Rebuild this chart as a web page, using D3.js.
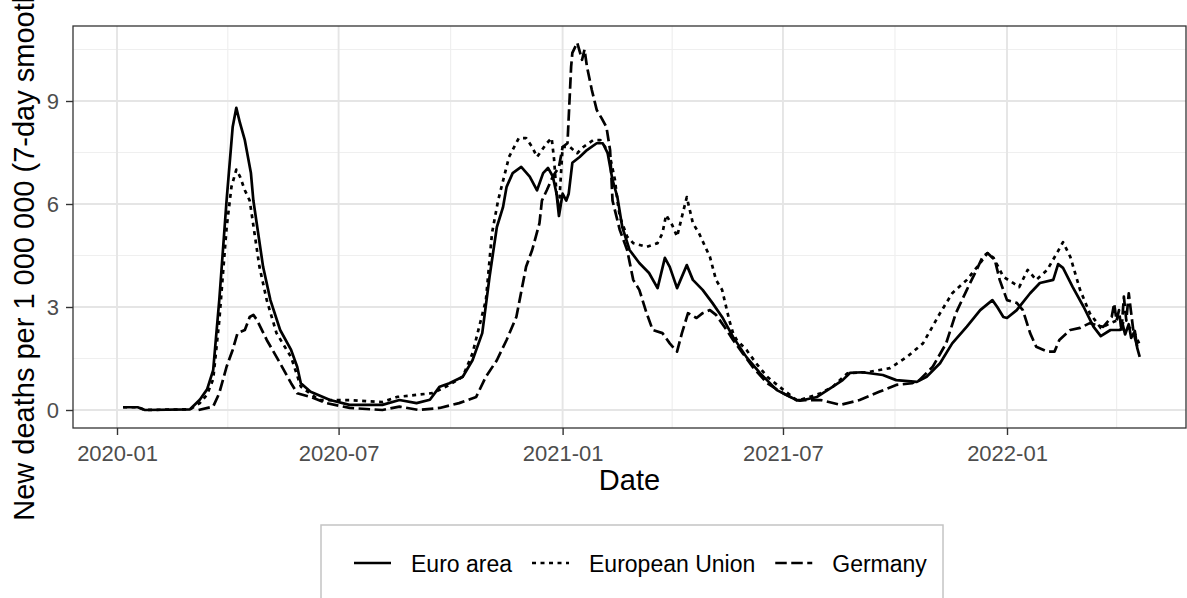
<!DOCTYPE html>
<html><head><meta charset="utf-8">
<script src="https://cdn.jsdelivr.net/npm/d3@7"></script>
<style>
body{margin:0;background:#fff}
svg{display:block}
text{font-family:"Liberation Sans",Arial,Helvetica,sans-serif}
</style>
</head><body>
<svg id="chart" width="1187" height="598"></svg>
<script>
// ---------------- data ----------------
const seriesNames = ["Euro area", "European Union", "Germany"];

const euroArea = [
["2020-01-06",0.08],["2020-01-18",0.08],["2020-01-24",0.0],["2020-03-01",0.02],["2020-03-09",0.3],["2020-03-15",0.6],
["2020-03-20",1.16],["2020-03-25",3.2],["2020-03-31",6.1],["2020-04-05",8.24],["2020-04-08",8.8],["2020-04-11",8.36],
["2020-04-15",7.86],["2020-04-20",6.9],["2020-04-22",6.1],["2020-04-30",4.17],["2020-05-06",3.2],["2020-05-14",2.33],
["2020-05-23",1.75],["2020-05-28",1.26],["2020-05-31",0.78],["2020-06-08",0.53],["2020-06-24",0.29],["2020-07-10",0.15],
["2020-08-06",0.15],["2020-08-20",0.29],["2020-09-03",0.2],["2020-09-14",0.3],["2020-09-22",0.68],["2020-09-30",0.78],
["2020-10-11",0.97],["2020-10-19",1.45],["2020-10-27",2.24],["2020-11-02",3.88],["2020-11-08",5.33],["2020-11-13",5.9],
["2020-11-16",6.5],["2020-11-21",6.9],["2020-11-28",7.08],["2020-12-05",6.8],["2020-12-11",6.4],["2020-12-16",6.9],
["2020-12-20",7.05],["2020-12-24",6.8],["2020-12-27",6.3],["2020-12-29",5.65],["2021-01-01",6.3],["2021-01-04",6.1],
["2021-01-06",6.3],["2021-01-09",7.2],["2021-01-15",7.37],["2021-01-21",7.57],["2021-01-29",7.77],["2021-02-03",7.77],
["2021-02-07",7.48],["2021-02-11",6.7],["2021-02-15",6.2],["2021-02-19",5.33],["2021-02-25",4.66],["2021-03-05",4.28],
["2021-03-13",3.99],["2021-03-20",3.55],["2021-03-26",4.43],["2021-03-30",4.17],["2021-04-05",3.55],["2021-04-13",4.22],
["2021-04-18",3.79],["2021-04-26",3.5],["2021-05-04",3.12],["2021-05-12",2.71],["2021-05-21",2.13],["2021-06-01",1.54],
["2021-06-12",1.08],["2021-06-26",0.58],["2021-07-12",0.29],["2021-07-15",0.27],["2021-07-29",0.38],["2021-08-11",0.68],
["2021-08-19",0.87],["2021-08-25",1.08],["2021-09-04",1.1],["2021-09-21",1.02],["2021-10-02",0.87],["2021-10-19",0.82],
["2021-10-27",0.97],["2021-11-07",1.36],["2021-11-17",1.94],["2021-11-29",2.43],["2021-12-10",2.91],["2021-12-20",3.2],
["2021-12-24",3.0],["2021-12-29",2.71],["2022-01-01",2.68],["2022-01-09",2.91],["2022-01-20",3.4],["2022-01-28",3.7],
["2022-02-08",3.79],["2022-02-12",4.25],["2022-02-16",4.14],["2022-02-24",3.58],["2022-03-05",3.0],["2022-03-13",2.43],
["2022-03-19",2.15],["2022-03-27",2.33],["2022-04-04",2.33],["2022-04-06",2.5],["2022-04-08",2.2],["2022-04-11",2.5],
["2022-04-13",2.1],["2022-04-16",2.3],["2022-04-18",1.8],["2022-04-20",1.55]
];

const europeanUnion = [
["2020-01-06",0.08],["2020-01-18",0.08],["2020-01-24",0.0],["2020-03-01",0.02],["2020-03-09",0.2],["2020-03-15",0.45],
["2020-03-20",0.9],["2020-03-25",2.6],["2020-03-31",5.3],["2020-04-04",6.5],["2020-04-08",7.0],["2020-04-11",6.8],
["2020-04-15",6.4],["2020-04-19",6.1],["2020-04-27",4.17],["2020-05-03",3.2],["2020-05-11",2.24],["2020-05-23",1.54],
["2020-05-31",0.68],["2020-06-15",0.29],["2020-07-10",0.29],["2020-08-06",0.23],["2020-08-18",0.38],["2020-09-16",0.49],
["2020-09-30",0.73],["2020-10-11",0.97],["2020-10-19",1.65],["2020-10-30",3.2],["2020-11-04",5.15],["2020-11-09",6.1],
["2020-11-18",7.37],["2020-11-26",7.92],["2020-12-02",7.92],["2020-12-07",7.66],["2020-12-11",7.37],["2020-12-19",7.77],
["2020-12-23",7.92],["2020-12-25",7.3],["2020-12-27",6.3],["2020-12-29",5.9],["2021-01-01",7.66],["2021-01-07",7.66],
["2021-01-13",7.48],["2021-01-18",7.66],["2021-01-26",7.86],["2021-02-01",7.86],["2021-02-05",7.66],["2021-02-09",7.37],
["2021-02-13",6.7],["2021-02-15",6.1],["2021-02-17",5.63],["2021-02-23",5.05],["2021-02-28",4.86],["2021-03-11",4.75],
["2021-03-20",4.86],["2021-03-24",5.15],["2021-03-27",5.68],["2021-04-01",5.39],["2021-04-05",5.05],["2021-04-09",5.63],
["2021-04-13",6.2],["2021-04-18",5.44],["2021-04-23",5.15],["2021-05-02",4.46],["2021-05-07",3.79],["2021-05-12",3.5],
["2021-05-18",2.6],["2021-05-21",2.24],["2021-05-24",2.04],["2021-06-01",1.75],["2021-06-09",1.36],["2021-06-18",0.97],
["2021-06-28",0.68],["2021-07-12",0.29],["2021-07-15",0.29],["2021-08-01",0.49],["2021-08-11",0.68],["2021-08-23",1.07],
["2021-09-08",1.1],["2021-09-27",1.22],["2021-10-11",1.55],["2021-10-24",1.94],["2021-11-07",2.82],["2021-11-17",3.4],
["2021-11-29",3.79],["2021-12-10",4.28],["2021-12-16",4.57],["2021-12-21",4.43],["2021-12-29",3.88],["2022-01-06",3.7],
["2022-01-11",3.58],["2022-01-18",4.08],["2022-01-25",3.79],["2022-02-03",4.08],["2022-02-11",4.57],["2022-02-16",4.89],
["2022-02-22",4.46],["2022-03-02",3.5],["2022-03-10",2.82],["2022-03-19",2.39],["2022-03-27",2.53],["2022-04-01",2.6],
["2022-04-08",2.5],["2022-04-15",2.3],["2022-04-20",1.9]
];

const germany = [
["2020-03-08",0.0],["2020-03-20",0.1],["2020-03-25",0.49],["2020-03-31",1.26],["2020-04-05",1.75],["2020-04-09",2.24],
["2020-04-15",2.33],["2020-04-19",2.71],["2020-04-22",2.77],["2020-04-25",2.62],["2020-05-03",2.04],["2020-05-14",1.36],
["2020-05-23",0.78],["2020-05-28",0.49],["2020-06-08",0.38],["2020-06-21",0.2],["2020-07-10",0.06],["2020-08-06",0.0],
["2020-08-20",0.1],["2020-09-05",0.0],["2020-09-22",0.06],["2020-10-08",0.2],["2020-10-22",0.38],["2020-10-30",0.97],
["2020-11-08",1.45],["2020-11-16",2.04],["2020-11-24",2.71],["2020-12-02",4.17],["2020-12-07",4.66],["2020-12-13",5.44],
["2020-12-15",6.1],["2020-12-19",6.4],["2020-12-24",6.8],["2020-12-29",7.08],["2021-01-01",7.66],["2021-01-05",7.77],
["2021-01-08",10.0],["2021-01-09",10.4],["2021-01-13",10.7],["2021-01-17",10.2],["2021-01-19",10.5],["2021-01-21",10.0],
["2021-01-25",9.32],["2021-01-29",8.74],["2021-02-02",8.5],["2021-02-06",8.24],["2021-02-09",7.57],["2021-02-11",6.1],
["2021-02-17",5.24],["2021-02-23",4.66],["2021-02-28",3.79],["2021-03-05",3.5],["2021-03-11",2.82],["2021-03-16",2.33],
["2021-03-24",2.24],["2021-03-30",1.94],["2021-04-05",1.7],["2021-04-09",2.24],["2021-04-14",2.82],["2021-04-21",2.68],
["2021-04-26",2.82],["2021-05-02",2.91],["2021-05-07",2.77],["2021-05-14",2.42],["2021-05-21",2.04],["2021-05-29",1.65],
["2021-06-06",1.26],["2021-06-18",0.78],["2021-07-01",0.49],["2021-07-12",0.29],["2021-08-01",0.29],["2021-08-17",0.15],
["2021-09-02",0.29],["2021-09-18",0.53],["2021-10-02",0.73],["2021-10-15",0.78],["2021-10-21",0.87],["2021-11-01",1.26],
["2021-11-12",1.94],["2021-11-20",2.82],["2021-11-29",3.5],["2021-12-07",4.08],["2021-12-12",4.46],["2021-12-16",4.57],
["2021-12-22",4.37],["2021-12-26",3.79],["2022-01-01",3.2],["2022-01-09",3.12],["2022-01-14",2.91],["2022-01-20",2.24],
["2022-01-25",1.84],["2022-02-03",1.7],["2022-02-09",1.7],["2022-02-13",2.04],["2022-02-22",2.33],["2022-03-02",2.39],
["2022-03-10",2.53],["2022-03-21",2.42],["2022-03-28",2.71],["2022-03-30",3.1],["2022-04-01",2.6],["2022-04-03",2.91],
["2022-04-05",2.3],["2022-04-07",3.3],["2022-04-09",2.6],["2022-04-11",3.4],["2022-04-13",2.82],["2022-04-15",2.24],
["2022-04-18",1.84]
];

const xTickLabels = ["2020-01","2020-07","2021-01","2021-07","2022-01"];
const xMinorTicks = ["2020-04","2020-10","2021-04","2021-10","2022-04"];
const yTicks = [0, 3, 6, 9];
const yMinorTicks = [1.5, 4.5, 7.5, 10.5];
const xTitle = "Date";
const yTitle = "New deaths per 1 000 000 (7-day smoothed)";

// ---------------- layout ----------------
const svg = d3.select("#chart");
const P = {l: 73, t: 26, r: 1186, b: 428};
const parseDay = d3.utcParse("%Y-%m-%d");
const parseMonth = d3.utcParse("%Y-%m");

const x = d3.scaleUtc()
  .domain([parseDay("2020-01-01"), parseDay("2022-01-01")])
  .range([117, 1007]);
const y = d3.scaleLinear().domain([0, 9]).range([410, 101]);

const FONT = '"Liberation Sans",Arial,Helvetica,sans-serif';

// panel background
svg.append("rect").attr("x", P.l).attr("y", P.t)
  .attr("width", P.r - P.l).attr("height", P.b - P.t).attr("fill", "#fff");

const grid = svg.append("g");
// minor grid
grid.selectAll("line.xmin").data(xMinorTicks.map(parseMonth)).join("line")
  .attr("x1", d => x(d)).attr("x2", d => x(d)).attr("y1", P.t).attr("y2", P.b)
  .attr("stroke", "#efefef").attr("stroke-width", 1.2);
grid.selectAll("line.ymin").data(yMinorTicks).join("line")
  .attr("y1", d => y(d)).attr("y2", d => y(d)).attr("x1", P.l).attr("x2", P.r)
  .attr("stroke", "#efefef").attr("stroke-width", 1.2);
// major grid
grid.selectAll("line.xmaj").data(xTickLabels.map(parseMonth)).join("line")
  .attr("x1", d => x(d)).attr("x2", d => x(d)).attr("y1", P.t).attr("y2", P.b)
  .attr("stroke", "#e5e5e5").attr("stroke-width", 1.9);
grid.selectAll("line.ymaj").data(yTicks).join("line")
  .attr("y1", d => y(d)).attr("y2", d => y(d)).attr("x1", P.l).attr("x2", P.r)
  .attr("stroke", "#e5e5e5").attr("stroke-width", 1.9);

// clip
svg.append("clipPath").attr("id", "clip").append("rect")
  .attr("x", P.l).attr("y", P.t).attr("width", P.r - P.l).attr("height", P.b - P.t);

const styles = {
  "Euro area": null,
  "European Union": "4,4.5",
  "Germany": "11.5,4.5"
};
const seriesData = [euroArea, europeanUnion, germany];
const LW = 2.7;

const line = d3.line()
  .x(d => x(parseDay(d[0])))
  .y(d => y(d[1]));

const lines = svg.append("g").attr("clip-path", "url(#clip)");
seriesNames.forEach((name, i) => {
  lines.append("path")
    .datum(seriesData[i])
    .attr("d", line)
    .attr("fill", "none")
    .attr("stroke", "#000")
    .attr("stroke-width", LW)
    .attr("stroke-linejoin", "round")
    .attr("stroke-dasharray", styles[name]);
});

// panel border
svg.append("rect").attr("x", P.l).attr("y", P.t)
  .attr("width", P.r - P.l).attr("height", P.b - P.t)
  .attr("fill", "none").attr("stroke", "#333").attr("stroke-width", 1.3);

// axes
const xAxis = d3.axisBottom(x)
  .tickValues(xTickLabels.map(parseMonth))
  .tickFormat(d3.utcFormat("%Y-%m"))
  .tickSize(7).tickPadding(10);
const gx = svg.append("g").attr("transform", `translate(0,${P.b})`).call(xAxis);
gx.select(".domain").remove();
gx.selectAll(".tick line").attr("stroke", "#333").attr("stroke-width", 1.4);
gx.selectAll(".tick text").attr("fill", "#4d4d4d").style("font-size", "22px").style("font-family", FONT);

const yAxis = d3.axisLeft(y).tickValues(yTicks).tickFormat(d3.format("d"))
  .tickSize(7).tickPadding(7);
const gy = svg.append("g").attr("transform", `translate(${P.l},0)`).call(yAxis);
gy.select(".domain").remove();
gy.selectAll(".tick line").attr("stroke", "#333").attr("stroke-width", 1.4);
gy.selectAll(".tick text").attr("fill", "#4d4d4d").style("font-size", "22px").style("font-family", FONT);

// titles
svg.append("text").attr("x", (P.l + P.r) / 2).attr("y", 490)
  .attr("text-anchor", "middle").style("font-size", "29px").attr("fill", "#000").text(xTitle);
svg.append("text").attr("transform", `translate(34,${(P.t + P.b) / 2 + 6}) rotate(-90)`)
  .attr("text-anchor", "middle").style("font-size", "29px").attr("fill", "#000").text(yTitle);

// legend
const lg = svg.append("g");
lg.append("rect").attr("x", 321).attr("y", 525).attr("width", 622).attr("height", 95)
  .attr("fill", "#fff").attr("stroke", "#c4c4c4").attr("stroke-width", 1.5);
let lx = 354;
const ly = 563;
seriesNames.forEach((name, i) => {
  lg.append("line").attr("x1", lx).attr("x2", lx + 37).attr("y1", ly).attr("y2", ly)
    .attr("stroke", "#000").attr("stroke-width", LW)
    .attr("stroke-dasharray", styles[name]);
  const t = lg.append("text").attr("x", lx + 57).attr("y", ly + 8.5)
    .style("font-size", "23px").attr("fill", "#000").text(name);
  const w = t.node().getComputedTextLength();
  lx = lx + 57 + w + 20;
});
</script>
</body></html>
